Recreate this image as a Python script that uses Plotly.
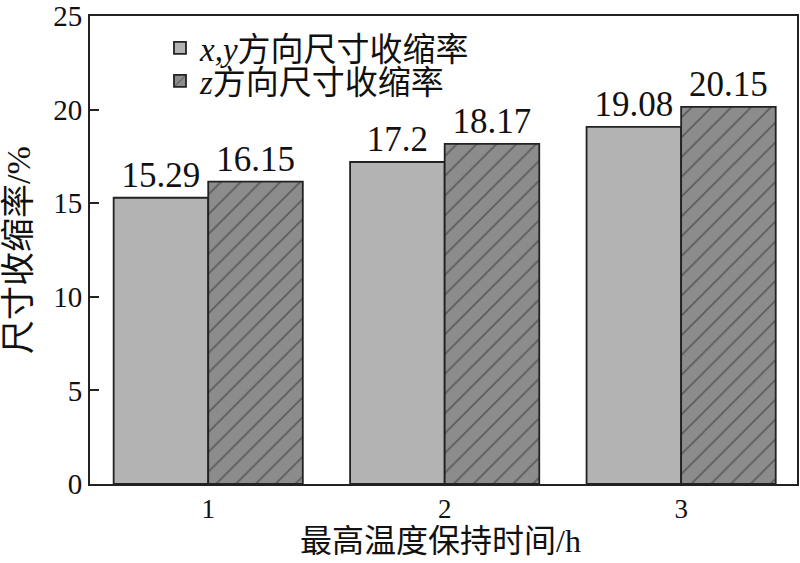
import plotly.graph_objects as go

categories = [1, 2, 3]
xy_shrink = [15.29, 17.2, 19.08]
z_shrink = [16.15, 18.17, 20.15]
xy_name = "<i>x,y</i>方向尺寸收缩率"
z_name = "<i>z</i>方向尺寸收缩率"
y_ticks = [0, 5, 10, 15, 20, 25]
x_title = "最高温度保持时间/h"
y_title = "尺寸收缩率/%"

FONT = "Liberation Serif, Noto Sans CJK SC"

fig = go.Figure()
fig.add_trace(go.Bar(
    x=categories, y=xy_shrink, name=xy_name, legend="legend",
    marker=dict(color="#b3b3b3", line=dict(color="#222", width=1.8)),
    text=[str(v) for v in xy_shrink], textposition="outside", constraintext="none",
    textfont=dict(size=35, color="#111", family=FONT), cliponaxis=False,
))
fig.add_trace(go.Bar(
    x=categories, y=z_shrink, name=z_name, legend="legend2",
    marker=dict(color="#8c8c8c", line=dict(color="#222", width=1.8),
                pattern=dict(shape="/", fgcolor="#2a2a2a", bgcolor="#8c8c8c",
                             size=14, solidity=0.12, fillmode="overlay")),
    text=[str(v) for v in z_shrink], textposition="outside", constraintext="none",
    textfont=dict(size=35, color="#111", family=FONT), cliponaxis=False,
))

leg_common = dict(xanchor="left", yanchor="middle", bgcolor="rgba(0,0,0,0)",
                  font=dict(size=33, family=FONT), itemwidth=30)

fig.update_layout(
    width=800, height=563,
    margin=dict(l=90, r=3, t=16, b=79),
    paper_bgcolor="white", plot_bgcolor="white",
    barmode="group", bargap=0.2, bargroupgap=0,
    font=dict(family=FONT, size=28, color="#111"),
    showlegend=True,
    legend=dict(x=0.099, y=(484 - 48) / 468, **leg_common),
    legend2=dict(x=0.099, y=(484 - 81) / 468, **leg_common),
    xaxis=dict(range=[0.5, 3.49], tickvals=categories, ticktext=[str(c) for c in categories],
               showline=True, linecolor="#222", linewidth=2, mirror=True,
               ticks="", showgrid=False, zeroline=False, automargin=False,
               tickfont=dict(size=27)),
    yaxis=dict(range=[0, 25], tickvals=y_ticks,
               showline=True, linecolor="#222", linewidth=2, mirror=True,
               ticks="inside", ticklen=9, tickwidth=2, tickcolor="#222",
               showgrid=False, zeroline=False, automargin=False,
               ticklabeloverflow="allow",
               tickfont=dict(size=29)),
    annotations=[
        dict(text=x_title, xref="paper", yref="paper", x=0.5, y=0, xanchor="center",
             yanchor="middle", yshift=-57, xshift=-3, showarrow=False,
             font=dict(size=32, family=FONT)),
        dict(text=y_title, xref="paper", yref="paper", x=0, y=0.5, xanchor="center",
             yanchor="middle", xshift=-72, textangle=-90, showarrow=False,
             font=dict(size=34, family=FONT)),
    ],
)

fig.write_html("out.html", config={"displayModeBar": False},
               post_script="document.body.style.margin='0';document.body.style.padding='0';")
